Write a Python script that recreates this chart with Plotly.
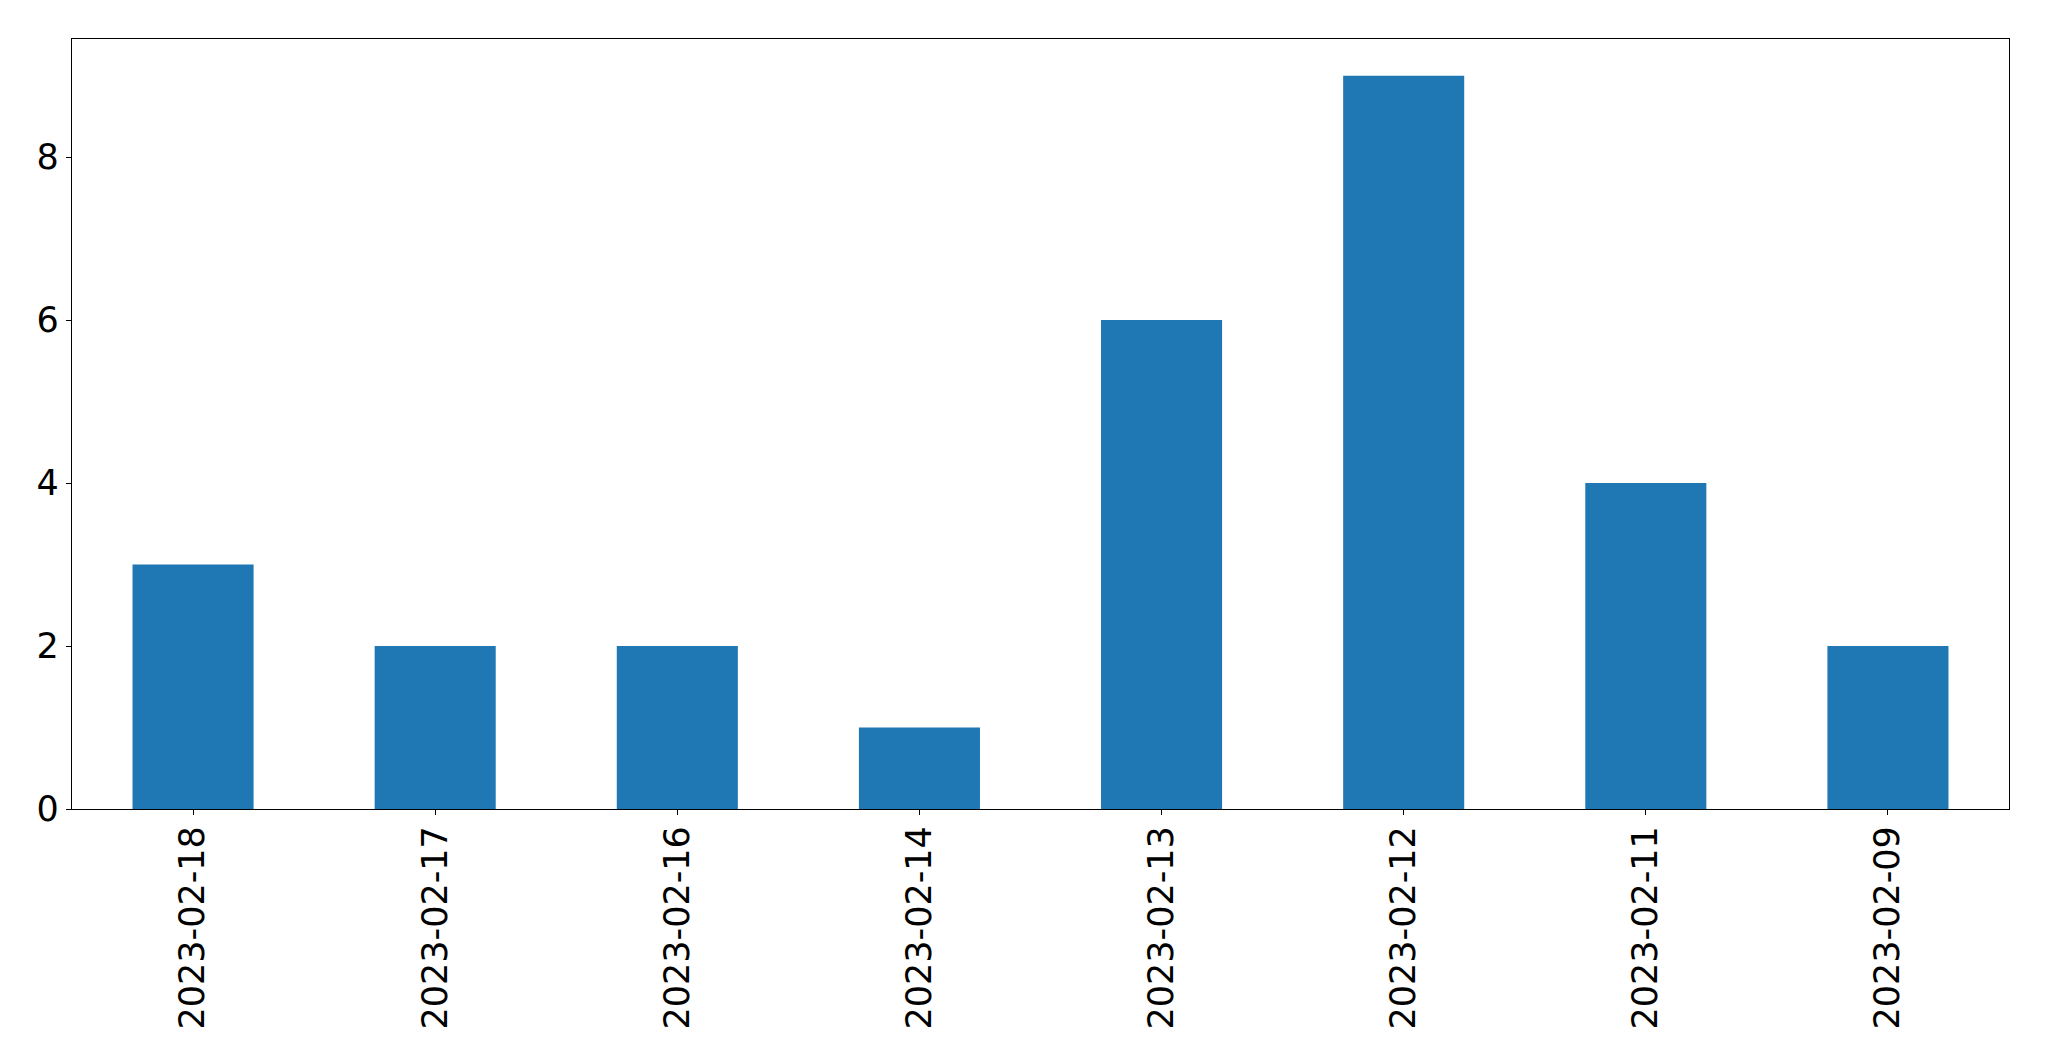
import plotly.graph_objects as go

dates = ["2023-02-18", "2023-02-17", "2023-02-16", "2023-02-14",
         "2023-02-13", "2023-02-12", "2023-02-11", "2023-02-09"]
counts = [3, 2, 2, 1, 6, 9, 4, 2]
y_ticks = [0, 2, 4, 6, 8]

fig = go.Figure(go.Bar(x=dates, y=counts, width=0.5, marker=dict(color="#1f77b4", line=dict(width=0))))

font = dict(family="DejaVu Sans", size=35, color="black")
fig.update_layout(
    width=2033, height=1045,
    margin=dict(l=64, r=32, t=31, b=244, autoexpand=False),
    paper_bgcolor="white", plot_bgcolor="white",
    showlegend=False,
    font=font,
)
fig.update_xaxes(
    type="category", range=[-0.5, 7.5], tickangle=-90,
    showline=True, linecolor="black", linewidth=1.3, mirror=True,
    ticks="outside", ticklen=5, tickwidth=1.3, tickcolor="black",
    showgrid=False, zeroline=False, tickfont=font, ticklabelstandoff=-3,
)
fig.update_yaxes(
    range=[0, 9.45], tickvals=y_ticks,
    showline=True, linecolor="black", linewidth=1.3, mirror=True,
    ticks="outside", ticklen=5, tickwidth=1.3, tickcolor="black",
    showgrid=False, zeroline=False, tickfont=font,
)
fig.write_html("out.html")
